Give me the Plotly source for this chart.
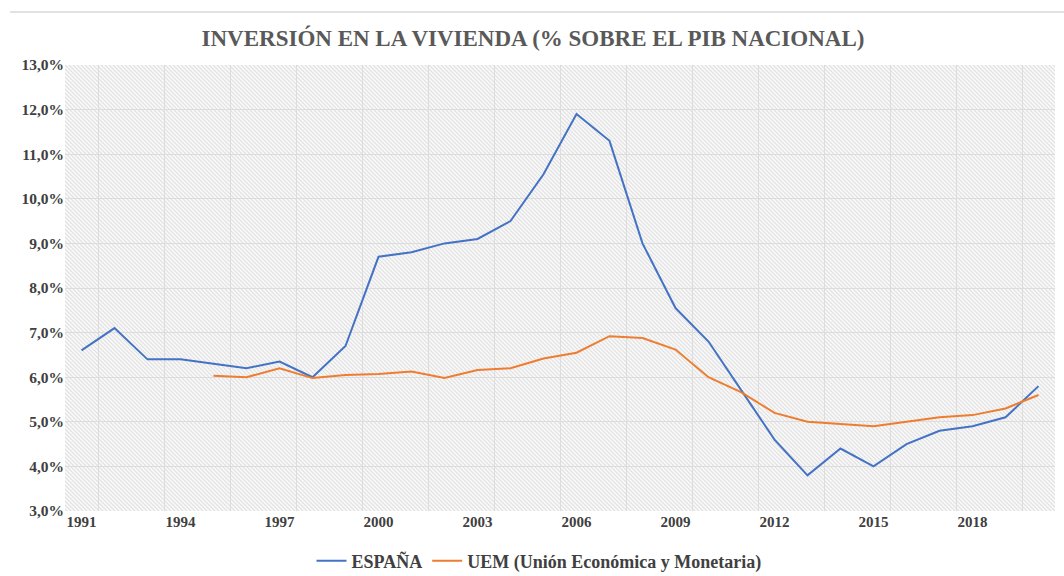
import base64
import plotly.graph_objects as go

years = list(range(1991, 2021))
espana = [6.6, 7.1, 6.4, 6.4, 6.3, 6.2, 6.35, 6.0, 6.7, 8.7,
          8.8, 9.0, 9.1, 9.5, 10.55, 11.9, 11.3, 9.0, 7.55, 6.8,
          5.7, 4.6, 3.8, 4.4, 4.0, 4.5, 4.8, 4.9, 5.1, 5.8]
uem = [None, None, None, None, 6.03, 6.0, 6.2, 5.98, 6.05, 6.07,
       6.13, 5.98, 6.16, 6.2, 6.42, 6.55, 6.92, 6.88, 6.62, 6.0,
       5.66, 5.2, 5.0, 4.95, 4.9, 5.0, 5.1, 5.15, 5.3, 5.6]
series_names = ["ESPAÑA", "UEM (Unión Económica y Monetaria)"]
title_text = "INVERSIÓN EN LA VIVIENDA (% SOBRE EL PIB NACIONAL)"

FONT = "Liberation Serif, Times New Roman, serif"
W, H = 1064, 576
ML, MR, MT, MB = 65, 9, 65, 65
PW, PH = W - ML - MR, H - MT - MB

svg = f'''<svg xmlns="http://www.w3.org/2000/svg" width="{PW}" height="{PH}" viewBox="0 0 {PW} {PH}" preserveAspectRatio="none">
<defs><pattern id="p" patternUnits="userSpaceOnUse" width="4" height="4">
<rect width="4" height="4" fill="#f9f9f9"/>
<path d="M-1,-1 L5,5 M-1,3 L1,5 M3,-1 L5,1" stroke="#e0e0e0" stroke-width="1.1"/>
</pattern></defs>
<rect width="{PW}" height="{PH}" fill="url(#p)"/>
</svg>'''
hatch = "data:image/svg+xml;base64," + base64.b64encode(svg.encode()).decode()

fig = go.Figure()
fig.add_trace(go.Scatter(x=years, y=espana, mode="lines", name=series_names[0],
                         line=dict(color="#4472C4", width=2)))
fig.add_trace(go.Scatter(x=years, y=uem, mode="lines", name=series_names[1],
                         line=dict(color="#ED7D31", width=2)))

fig.update_layout(
    width=W, height=H,
    margin=dict(l=ML, r=MR, t=MT, b=MB, autoexpand=False),
    paper_bgcolor="white",
    plot_bgcolor="rgba(0,0,0,0)",
    separators=",.",
    font=dict(family=FONT, color="#404040"),
    title=dict(text=title_text, x=533 / W, xref="container", xanchor="center",
               y=1 - 37.5 / H, yref="container", yanchor="middle",
               font=dict(family=FONT, size=23, color="#595959", weight="bold")),
    legend=dict(orientation="h", x=(539 - ML) / PW, xanchor="center",
                y=-(561 - (MT + PH)) / PH, yanchor="middle",
                font=dict(family=FONT, size=18, color="#404040", weight="bold"),
                bgcolor="rgba(0,0,0,0)", itemwidth=30, tracegroupgap=0),
    images=[dict(source=hatch, xref="paper", yref="paper", x=0, y=1, sizex=1, sizey=1,
                 sizing="stretch", xanchor="left", yanchor="top", layer="below")],
    shapes=[dict(type="line", xref="paper", yref="paper",
                 x0=(10 - ML) / PW, x1=(W - ML) / PW,
                 y0=1 + (MT - 12) / PH, y1=1 + (MT - 12) / PH,
                 line=dict(color="#d9d9d9", width=1.5))],
)
fig.update_xaxes(range=[1990.5, 2020.5], tick0=1991, dtick=3, showgrid=False,
                 zeroline=False, showline=False, ticks="", automargin=False,
                 tickfont=dict(family=FONT, size=15, color="#404040", weight="bold"),
                 minor=dict(tick0=1991.5, dtick=2, showgrid=True, gridcolor="#dddddd",
                            gridwidth=1, ticks=""))
fig.update_yaxes(range=[3, 13], dtick=1, tickformat=".1f", ticksuffix="%",
                 showgrid=True, gridcolor="#dddddd", gridwidth=1,
                 zeroline=False, showline=False, ticks="", automargin=False,
                 tickfont=dict(family=FONT, size=15.5, color="#404040", weight="bold"))

fig.write_html("out.html", config={"displayModeBar": False},
               post_script="document.body.style.margin='0';document.body.style.overflow='hidden';")
